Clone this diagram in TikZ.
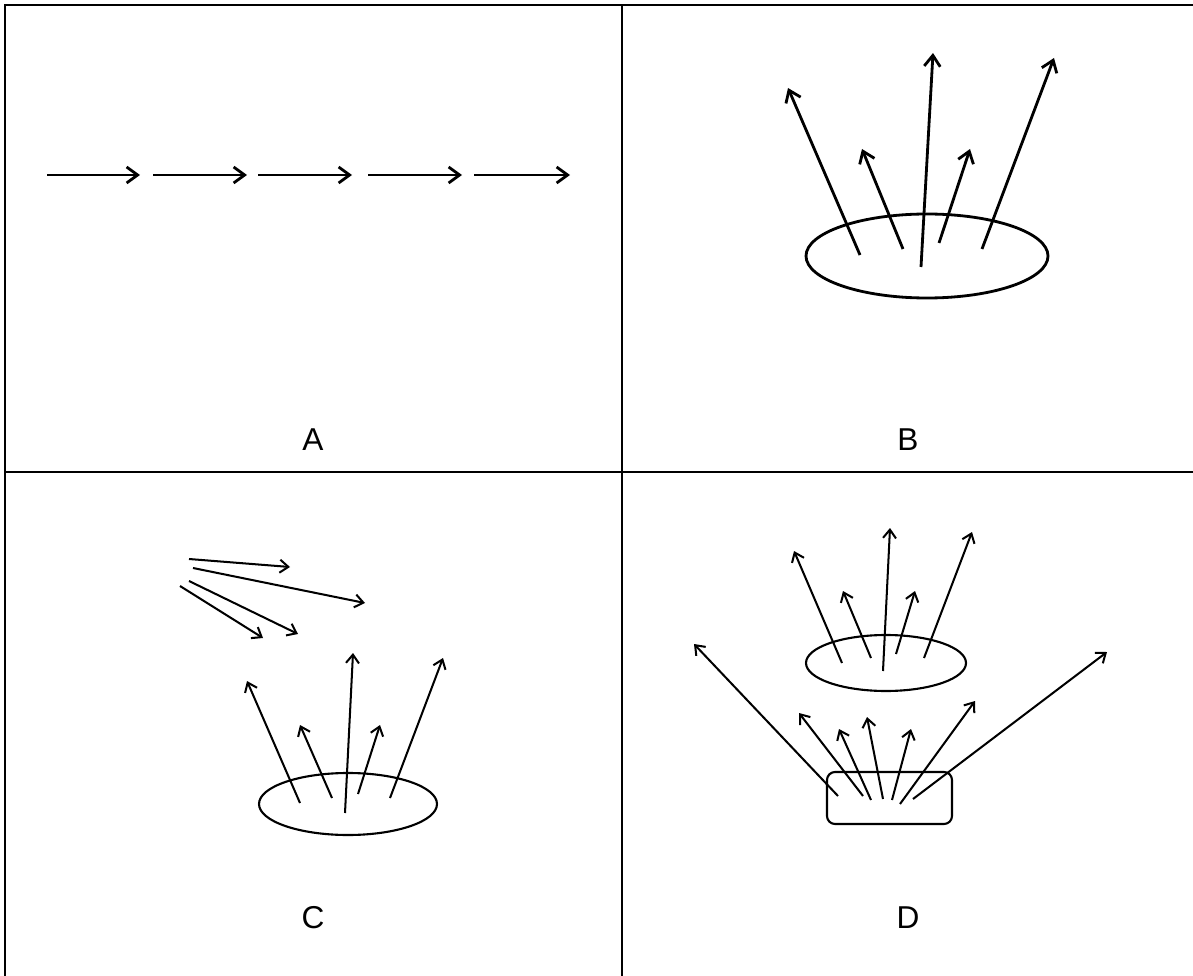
\documentclass[tikz,border=0pt]{standalone}
\usepackage{fontspec}
\setmainfont{Liberation Sans}
\usetikzlibrary{arrows.meta}
\tikzset{
  frame/.style={line width=1.6pt},
  ray/.style={-{Straight Barb[length=2.2mm,width=3.2mm]},line width=1.6pt},
  thin ray/.style={-{Straight Barb[length=1.7mm,width=2.6mm]},line width=1.15pt},
  source/.style={line width=#1},
  source/.default=1.6pt,
  panel label/.style={font=\fontsize{18}{21}\selectfont},
}

\begin{document}
\begin{tikzpicture}[x=0.02cm,y=-0.02cm]
  \useasboundingbox (0,0) rectangle (1193,976);
  % frame and dividers
  \draw[frame] (5,976) -- (5,5) -- (1193,5);
  \draw[frame] (622,5) -- (622,976) (5,472) -- (1193,472);

  % A: a chain of arrows
  \foreach \s/\e in {47/140,153/247,258/352,368/462,474/570}
    \draw[ray] (\s,175) -- (\e,175);
  \node[panel label] (labA) at (313,440) {A};

  % B: one source
  \draw[source] (927,256) ellipse [x radius=121, y radius=42];
  \foreach \sx/\sy/\tx/\ty in {860/255/788/88, 903/249/862/149, 921/267/933/53,
      939/243/970/149, 982/249/1054/58}
    \draw[ray] (\sx,\sy) -- (\tx,\ty);
  \node[panel label] (labB) at (908,440) {B};

  % C: source plus a side flow
  \draw[source=1.2pt] (348,804) ellipse [x radius=89, y radius=31];
  \foreach \sx/\sy/\tx/\ty in {300/803/247/681, 332/798/300/725, 345/813/353/653,
      358/794/380/725, 390/798/443/658}
    \draw[thin ray] (\sx,\sy) -- (\tx,\ty);
  \foreach \sx/\sy/\tx/\ty in {189/559/290/567, 193/568/365/603, 189/581/298/634,
      180/586/263/638}
    \draw[thin ray] (\sx,\sy) -- (\tx,\ty);
  \node[panel label] (labC) at (313,918) {C};

  % D: two sources
  \draw[source=1.2pt] (886,663) ellipse [x radius=80, y radius=28];
  \foreach \sx/\sy/\tx/\ty in {842/663/794/551, 871/658/843/591, 883/671/890/528,
      896/654/915/591, 924/658/972/532}
    \draw[thin ray] (\sx,\sy) -- (\tx,\ty);
  \draw[source=1.2pt,rounded corners=0.16cm] (827,772) rectangle (952,824);
  \foreach \sx/\sy/\tx/\ty in {838/796/694/644, 863/796/799/713, 871/800/839/729,
      883/799/867/717, 892/800/911/729, 900/804/975/701, 913/799/1107/652}
    \draw[thin ray] (\sx,\sy) -- (\tx,\ty);
  \node[panel label] (labD) at (908,918) {D};
\end{tikzpicture}
\end{document}
